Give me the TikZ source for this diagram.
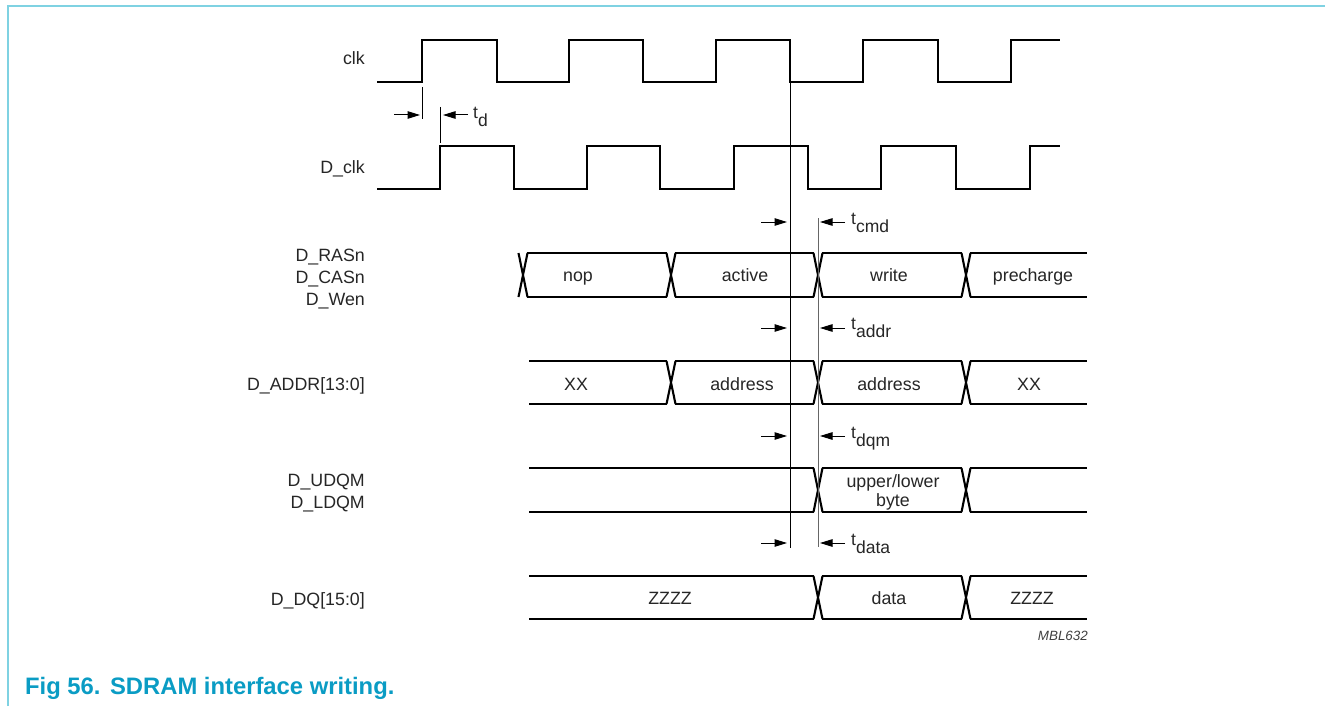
\documentclass[tikz,border=0pt]{standalone}
\usepackage{fontspec}
\setmainfont{Liberation Sans}
\usetikzlibrary{arrows.meta}
\definecolor{framecol}{HTML}{7FD2E2}
\definecolor{capcol}{HTML}{0A9CC4}
\tikzset{
  wave/.style={line width=2.1bp,black,line join=miter},
  marker/.style={line width=1bp,black},
  greymarker/.style={line width=1.4bp,black!60},
  dimarrow/.style={line width=1bp,black,-{Triangle[length=12.5bp,width=7.5bp]}},
  sig/.style={anchor=base east,inner sep=0pt,font=\fontsize{17.8bp}{21.5bp}\selectfont,text=black!85},
  val/.style={anchor=base,inner sep=0pt,font=\fontsize{17.8bp}{20bp}\selectfont,text=black!85},
  tlab/.style={anchor=base west,inner sep=0pt,font=\fontsize{17.5bp}{20bp}\selectfont,text=black!85},
}
\newcommand{\tsub}[1]{t\raisebox{-8bp}{#1}}
\newcommand{\crossing}[3]{\draw[wave] (#1-4.5,#2) -- (#1+4.5,#3) (#1-4.5,#3) -- (#1+4.5,#2);}
\begin{document}
\begin{tikzpicture}[x=1bp,y=-1bp]
\useasboundingbox (0,0) rectangle (1325,706);
\fill[white] (0,0) rectangle (1325,706);
\draw[framecol,line width=1.5bp] (8,706) -- (8,6) -- (1325,6);

% clocks
\draw[wave] (377,82) -| (422,40) -| (497,82) -| (569,40) -| (643,82) -| (716,40) -| (790,82) -| (863,40) -| (938,82) -| (1011,40) -- (1060,40);
\draw[wave] (377,189) -| (440,146) -| (514,189) -| (587,146) -| (660,189) -| (734,146) -| (808,189) -| (881,146) -| (956,189) -| (1030,146) -- (1060,146);

% command bus
\crossing{523}{253}{297}
\draw[wave] (527,253) -- (667,253) (527,297) -- (667,297);
\crossing{671}{253}{297}
\draw[wave] (675,253) -- (814,253) (675,297) -- (814,297);
\crossing{818}{253}{297}
\draw[wave] (822,253) -- (962,253) (822,297) -- (962,297);
\crossing{966}{253}{297}
\draw[wave] (970,253) -- (1087,253) (970,297) -- (1087,297);

% address bus
\draw[wave] (529,361) -- (667,361) (529,404) -- (667,404);
\crossing{671}{361}{404}
\draw[wave] (675,361) -- (814,361) (675,404) -- (814,404);
\crossing{818}{361}{404}
\draw[wave] (822,361) -- (962,361) (822,404) -- (962,404);
\crossing{966}{361}{404}
\draw[wave] (970,361) -- (1087,361) (970,404) -- (1087,404);

% DQM bus
\draw[wave] (529,468) -- (814,468) (529,512) -- (814,512);
\crossing{818}{468}{512}
\draw[wave] (822,468) -- (962,468) (822,512) -- (962,512);
\crossing{966}{468}{512}
\draw[wave] (970,468) -- (1087,468) (970,512) -- (1087,512);

% DQ bus
\draw[wave] (529,576) -- (814,576) (529,619) -- (814,619);
\crossing{818}{576}{619}
\draw[wave] (822,576) -- (962,576) (822,619) -- (962,619);
\crossing{966}{576}{619}
\draw[wave] (970,576) -- (1087,576) (970,619) -- (1087,619);

% timing markers
\draw[marker] (422.5,87) -- (422.5,119);
\draw[marker] (440.5,107) -- (440.5,143);
\draw[marker] (790.5,82) -- (790.5,548);
\draw[greymarker] (818.5,218) -- (818.5,547);

% timing arrows
\coordinate (tdL) at (394,115); \coordinate (tdLe) at (420,115);
\coordinate (tdR) at (468,115); \coordinate (tdRe) at (443,115);
\draw[dimarrow] (tdL) -- (tdLe);
\draw[dimarrow] (tdR) -- (tdRe);
\foreach \yy in {222,328,436,543}{
  \coordinate (a) at (761,\yy); \coordinate (ae) at (787,\yy);
  \coordinate (b) at (845,\yy); \coordinate (be) at (820,\yy);
  \draw[dimarrow] (a) -- (ae);
  \draw[dimarrow] (b) -- (be);
}

% timing labels
\node[tlab] (ltd) at (473,119) {\tsub{d}};
\node[tlab] (lcmd) at (851,224) {\tsub{cmd}};
\node[tlab] (laddr) at (851,329) {\tsub{addr}};
\node[tlab] (ldqm) at (851,438) {\tsub{dqm}};
\node[tlab] (ldata) at (851,545) {\tsub{data}};

% signal names
\node[sig] (sclk) at (365,65) {clk};
\node[sig] (sdclk) at (365,173) {D\_clk};
\node[sig] (sras) at (365,261) {D\_RASn};
\node[sig] (scas) at (365,283) {D\_CASn};
\node[sig] (swen) at (365,305) {D\_Wen};
\node[sig] (saddr) at (365,390) {D\_ADDR[13:0]};
\node[sig] (sudqm) at (365,486) {D\_UDQM};
\node[sig] (sldqm) at (365,508) {D\_LDQM};
\node[sig] (sdq) at (365,605) {D\_DQ[15:0]};

% bus values
\node[val] (v1) at (578,281) {nop};
\node[val] (v2) at (745,281) {active};
\node[val] (v3) at (889,281) {write};
\node[val] (v4) at (1033,281) {precharge};
\node[val] (v5) at (576,390) {XX};
\node[val] (v6) at (742,390) {address};
\node[val] (v7) at (889,390) {address};
\node[val] (v8) at (1029,390) {XX};
\node[val] (v9a) at (893,487) {upper/lower};
\node[val] (v9b) at (893,506) {byte};
\node[val] (v10) at (670,604) {ZZZZ};
\node[val] (v11) at (889,604) {data};
\node[val] (v12) at (1032,604) {ZZZZ};

\node[anchor=base east,inner sep=0pt,font=\fontsize{13.4bp}{15bp}\selectfont\itshape,text=black!75] (mbl) at (1088,640) {MBL632};
\node[anchor=base west,inner sep=0pt,font=\fontsize{23.8bp}{26bp}\selectfont\bfseries,text=capcol] (cap) at (25,694) {Fig 56.\hspace{0.4em}SDRAM interface writing.};
\end{tikzpicture}
\end{document}
